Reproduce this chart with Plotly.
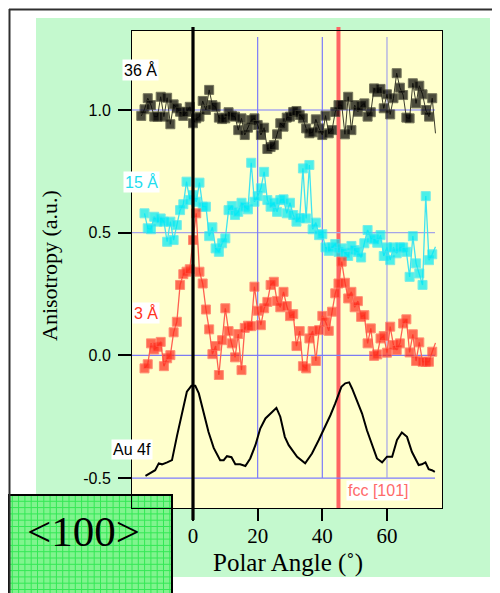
import plotly.graph_objects as go

# ---------------- data ----------------
angle_36 = [-16, -15, -14, -13, -12, -11, -10, -9, -8, -7, -6, -5, -4, -3, -2, -1,
            0, 1, 2, 3, 4, 5, 6, 7, 8, 9, 10, 11, 12, 13, 14, 15, 16, 17, 18, 19,
            20, 21, 22, 23, 24, 25, 26, 27, 28, 29, 30, 31, 32, 33, 34, 35, 36, 37,
            38, 39, 40, 41, 42, 43, 44, 45, 46, 47, 48, 49, 50, 51, 52, 53, 54, 55,
            56, 57, 58, 59, 60, 61, 62, 63, 64, 65, 66, 67, 68, 69, 70, 71, 72, 73,
            74, 75]
aniso_36 = [0.976, 1.003, 1.048, 1.020, 0.973, 0.973, 1.054, 0.973, 1.050, 0.942,
            1.023, 1.007, 0.993, 0.976, 0.992, 1.013, 0.946, 0.966, 0.973, 1.037,
            1.000, 1.082, 1.020, 1.013, 0.969, 0.963, 0.966, 0.991, 0.977, 0.973,
            0.918, 0.966, 0.898, 0.928, 0.959, 0.966, 0.939, 0.898, 0.928, 0.841,
            0.849, 0.857, 0.901, 0.946, 0.932, 0.969, 0.973, 0.992, 0.996, 0.980,
            0.966, 0.925, 0.905, 0.909, 0.962, 0.925, 0.898, 0.977, 0.905, 0.918,
            0.992, 1.020, 1.020, 0.901, 1.054, 0.918, 1.020, 0.993, 1.016, 1.027,
            0.973, 0.991, 1.088, 1.073, 1.086, 1.007, 1.064, 0.982, 1.048, 1.150,
            1.091, 1.061, 0.969, 0.966, 1.109, 1.027, 1.099, 1.064, 1.000, 0.973,
            1.048, 0.905]

angle_15 = [-15, -14, -13, -12, -11, -10, -9, -8, -7, -6, -5, -4, -3, -2, -1,
            0, 1, 2, 3, 4, 5, 6, 7, 8, 9, 10, 11, 12, 13, 14, 15, 16, 17, 18, 19,
            20, 21, 22, 23, 24, 25, 26, 27, 28, 29, 30, 31, 32, 33, 34, 35, 36, 37,
            38, 39, 40, 41, 42, 43, 44, 45, 46, 47, 48, 49, 50, 51, 52, 53, 54, 55,
            56, 57, 58, 59, 60, 61, 62, 63, 64, 65, 66, 67, 68, 69, 70, 71, 72, 73,
            74, 75]
aniso_15 = [0.579, 0.518, 0.514, 0.565, 0.545, 0.558, 0.545, 0.463, 0.545, 0.470,
            0.531, 0.592, 0.616, 0.708, 0.633, 0.653, 0.626, 0.704, 0.606, 0.606,
            0.486, 0.522, 0.436, 0.422, 0.457, 0.477, 0.592, 0.609, 0.572, 0.585,
            0.622, 0.606, 0.595, 0.785, 0.626, 0.649, 0.681, 0.748, 0.633, 0.606,
            0.622, 0.585, 0.633, 0.636, 0.579, 0.622, 0.572, 0.545, 0.560, 0.762,
            0.558, 0.776, 0.514, 0.541, 0.490, 0.494, 0.440, 0.426, 0.440, 0.454,
            0.422, 0.436, 0.418, 0.405, 0.446, 0.429, 0.421, 0.399, 0.457, 0.511,
            0.477, 0.473, 0.459, 0.490, 0.405, 0.440, 0.388, 0.440, 0.416, 0.440,
            0.440, 0.422, 0.320, 0.486, 0.375, 0.334, 0.287, 0.649, 0.388, 0.412,
            0.443]

angle_3 = angle_15
aniso_3 = [-0.053, -0.036, 0.049, 0.024, 0.035, 0.055, -0.044, -0.012, 0.001, 0.094,
           0.137, 0.287, 0.331, 0.341, 0.351, 0.470, 0.579, 0.341, 0.293, 0.187,
           0.106, 0.005, 0.038, -0.080, 0.062, 0.192, 0.099, 0.049, -0.008, 0.087,
           -0.060, 0.112, 0.121, 0.119, 0.280, 0.182, 0.123, 0.192, 0.218, 0.287,
           0.300, 0.222, 0.196, 0.259, 0.201, 0.160, 0.168, 0.038, 0.099, -0.044,
           -0.053, 0.069, 0.099, -0.023, 0.103, 0.161, 0.137, 0.100, 0.178, 0.253,
           0.293, 0.382, 0.296, 0.232, 0.259, 0.196, 0.221, 0.157, 0.164, 0.049,
           0.110, -0.002, 0.004, 0.069, 0.079, 0.011, 0.117, 0.042, 0.022, 0.049,
           0.130, 0.147, 0.012, 0.086, -0.023, 0.053, -0.026, -0.026, -0.026, 0.015,
           0.051]

angle_au = [-14.7, -13.2, -11.7, -10.6, -9.6, -8.0, -6.5, -4.9, -3.4, -1.9, -0.5, 0.7,
            1.8, 3.3, 4.8, 6.4, 8.4, 9.5, 10.5, 11.9, 13.1, 14.6, 16.2, 17.7, 19.3,
            20.8, 22.4, 24.4, 25.8, 27.0, 28.4, 29.6, 30.6, 32.2, 34.7, 36.8, 38.9,
            40.4, 42.5, 44.0, 45.9, 47.1, 48.3, 49.2, 50.7, 52.3, 53.8, 55.4, 56.9,
            58.5, 60.0, 61.6, 63.1, 64.6, 66.2, 67.7, 69.8, 70.8, 71.9, 72.9, 73.9, 74.8]
aniso_au = [-0.491, -0.481, -0.468, -0.440, -0.444, -0.436, -0.427, -0.325, -0.230,
            -0.148, -0.124, -0.124, -0.155, -0.230, -0.312, -0.377, -0.427, -0.427,
            -0.411, -0.415, -0.444, -0.444, -0.451, -0.420, -0.366, -0.298, -0.257,
            -0.232, -0.214, -0.250, -0.332, -0.366, -0.386, -0.413, -0.440, -0.400,
            -0.345, -0.305, -0.244, -0.196, -0.128, -0.114, -0.110, -0.135, -0.182,
            -0.237, -0.305, -0.366, -0.420, -0.436, -0.413, -0.413, -0.345, -0.314,
            -0.332, -0.393, -0.447, -0.444, -0.436, -0.464, -0.468, -0.475]

x_ticks = [0, 20, 40, 60]
y_ticks = [-0.5, 0.0, 0.5, 1.0]
y_tick_text = ["-0.5", "0.0", "0.5", "1.0"]
normal_angle = 0
fcc_angle = 45

# ---------------- layout geometry (page pixel coordinates) ----------------
PAGE_OFF = 8            # the figure div starts 8 px into the page
W, H = 500 - PAGE_OFF, 593 - PAGE_OFF
L, R, T, B = 132, 442, 31, 508
X_RANGE = [-18.87, 77.02]
Y_RANGE = [-0.622, 1.322]


def px(xp):
    return (xp - L) / (R - L)


def py(yp):
    return (B - yp) / (B - T)


def dy(yp):
    return Y_RANGE[1] - (yp - T) / (B - T) * (Y_RANGE[1] - Y_RANGE[0])


def dx(xp):
    return X_RANGE[0] + (xp - L) / (R - L) * (X_RANGE[1] - X_RANGE[0])


fig = go.Figure()


def sizes(n):
    return [9] * (n - 1) + [0]


fig.add_trace(go.Scatter(x=angle_15, y=aniso_15, mode="lines+markers",
                         line=dict(color="#40E4F0", width=1.3),
                         marker=dict(symbol="square", size=sizes(len(angle_15)), color="#00EAF5"),
                         showlegend=False))
fig.add_trace(go.Scatter(x=angle_3, y=aniso_3, mode="lines+markers",
                         line=dict(color="#FF6050", width=1.3),
                         marker=dict(symbol="square", size=sizes(len(angle_3)), color="#FF2C1C"),
                         showlegend=False))
fig.add_trace(go.Scatter(x=angle_36, y=aniso_36, mode="lines+markers",
                         line=dict(color="#3C3C2C", width=1),
                         marker=dict(symbol="square", size=sizes(len(angle_36)), color="#000000"),
                         showlegend=False))
fig.add_trace(go.Scatter(x=angle_au, y=aniso_au, mode="lines",
                         line=dict(color="#000000", width=2),
                         showlegend=False))

shapes = []
# green backdrop and yellow plot area
shapes.append(dict(type="rect", xref="paper", yref="paper", layer="below",
                   x0=px(36), x1=px(490), y0=py(577), y1=py(18),
                   fillcolor="#C4F9CE", line=dict(width=0)))
shapes.append(dict(type="rect", xref="paper", yref="paper", layer="below",
                   x0=0, x1=1, y0=0, y1=1,
                   fillcolor="#FFFFCC", line=dict(width=0)))
# <100> box
bx0, bx1, by0, by1 = 8, 172, 495, 600
shapes.append(dict(type="rect", xref="paper", yref="paper", layer="below",
                   x0=px(bx0), x1=px(bx1), y0=py(by1), y1=py(by0),
                   fillcolor="#80F48E", line=dict(width=0)))
gx = bx0 + 4.3
while gx < bx1:
    shapes.append(dict(type="line", xref="paper", yref="paper", layer="below",
                       x0=px(gx), x1=px(gx), y0=py(by1), y1=py(by0),
                       line=dict(color="#34E856", width=1)))
    gx += 6.3
gy = by0 + 6.3
while gy < by1:
    shapes.append(dict(type="line", xref="paper", yref="paper", layer="below",
                       x0=px(bx0), x1=px(bx1), y0=py(gy), y1=py(gy),
                       line=dict(color="#34E856", width=1)))
    gy += 6.3
shapes.append(dict(type="rect", xref="paper", yref="paper", layer="below",
                   x0=px(bx0 + 1), x1=px(bx1), y0=py(by1), y1=py(by0),
                   fillcolor="rgba(0,0,0,0)", line=dict(color="black", width=2)))
# outer frame (top and left), kept inside the figure
shapes.append(dict(type="line", xref="paper", yref="paper", layer="above",
                   x0=px(9), x1=px(500), y0=py(9.5), y1=py(9.5),
                   line=dict(color="#303030", width=2)))
shapes.append(dict(type="line", xref="paper", yref="paper", layer="above",
                   x0=px(9.5), x1=px(9.5), y0=py(9), y1=py(593),
                   line=dict(color="#303030", width=2)))

# grid lines (limited extent)
h_colors = {-0.5: "#7C7CFF", 0.0: "#7C7CF2", 0.5: "#A4A4E8", 1.0: "#7C7CFF"}
for yv in y_ticks:
    shapes.append(dict(type="line", xref="x", yref="y", layer="below",
                       x0=X_RANGE[0], x1=dx(435), y0=yv, y1=yv,
                       line=dict(color=h_colors[yv], width=1.2)))
v_colors = {20: "#7C7CFA", 40: "#7C7CFA", 60: "#A4A4E8"}
for xv in x_ticks[1:]:
    shapes.append(dict(type="line", xref="x", yref="y", layer="below",
                       x0=xv, x1=xv, y0=-0.5, y1=dy(37),
                       line=dict(color=v_colors[xv], width=1.2)))
# fcc [101] line
shapes.append(dict(type="line", xref="x", yref="paper", layer="below",
                   x0=fcc_angle, x1=fcc_angle, y0=0, y1=py(27),
                   line=dict(color="#FF6464", width=4)))
# surface normal line
shapes.append(dict(type="line", xref="x", yref="paper", layer="above",
                   x0=normal_angle, x1=normal_angle, y0=py(520), y1=py(27),
                   line=dict(color="#000000", width=3.2)))

sans = "Liberation Sans, Arial, sans-serif"
serif = "Liberation Serif, Times New Roman, serif"

annotations = [
    dict(text="36 Å", x=px(140), y=py(70), font=dict(family=sans, size=16, color="#000000")),
    dict(text="15 Å", x=px(141), y=py(182), font=dict(family=sans, size=16, color="#22DDEE")),
    dict(text="3 Å", x=px(146), y=py(313), font=dict(family=sans, size=16, color="#FF3322")),
    dict(text="Au 4f", x=px(132), y=py(449), font=dict(family=sans, size=16, color="#000000")),
    dict(text="fcc [101]", x=px(377.5), y=py(490), font=dict(family=sans, size=16, color="#FF6A6A")),
    dict(text="Anisotropy (a.u.)", x=px(49), y=py(266), textangle=-90,
         font=dict(family=serif, size=22, color="#000000"), bgcolor="rgba(0,0,0,0)"),
    dict(text="Polar Angle (˚)", x=px(288), y=py(563),
         font=dict(family=serif, size=25, color="#000000"), bgcolor="rgba(0,0,0,0)"),
    dict(text="&lt;100&gt;", x=px(83), y=py(531), font=dict(family=serif, size=43, color="#000000"),
         bgcolor="rgba(0,0,0,0)"),
]
for a in annotations:
    a.setdefault("bgcolor", "#FFFFFF")
    a.update(xref="paper", yref="paper", showarrow=False, xanchor="center", yanchor="middle",
             borderpad=1)

fig.update_layout(
    width=W, height=H,
    margin=dict(l=L - PAGE_OFF, r=W + PAGE_OFF - R, t=T - PAGE_OFF, b=H + PAGE_OFF - B, pad=0),
    paper_bgcolor="#FFFFFF",
    plot_bgcolor="rgba(0,0,0,0)",
    shapes=shapes,
    annotations=annotations,
    xaxis=dict(range=X_RANGE, showgrid=False, zeroline=False, showline=True, mirror=True,
               linecolor="#000000", linewidth=1, ticks="outside", ticklen=12, tickwidth=2,
               tickcolor="#000000", tickvals=x_ticks,
               tickfont=dict(family=serif, size=21, color="#000000"), ticklabelstandoff=-3),
    yaxis=dict(range=Y_RANGE, showgrid=False, zeroline=False, showline=True, mirror=True,
               linecolor="#000000", linewidth=1, ticks="outside", ticklen=13, tickwidth=2,
               tickcolor="#000000", tickvals=y_ticks, ticktext=y_tick_text,
               tickfont=dict(family=sans, size=16, color="#000000"), ticklabelstandoff=4),
)

fig.write_html("out.html")
